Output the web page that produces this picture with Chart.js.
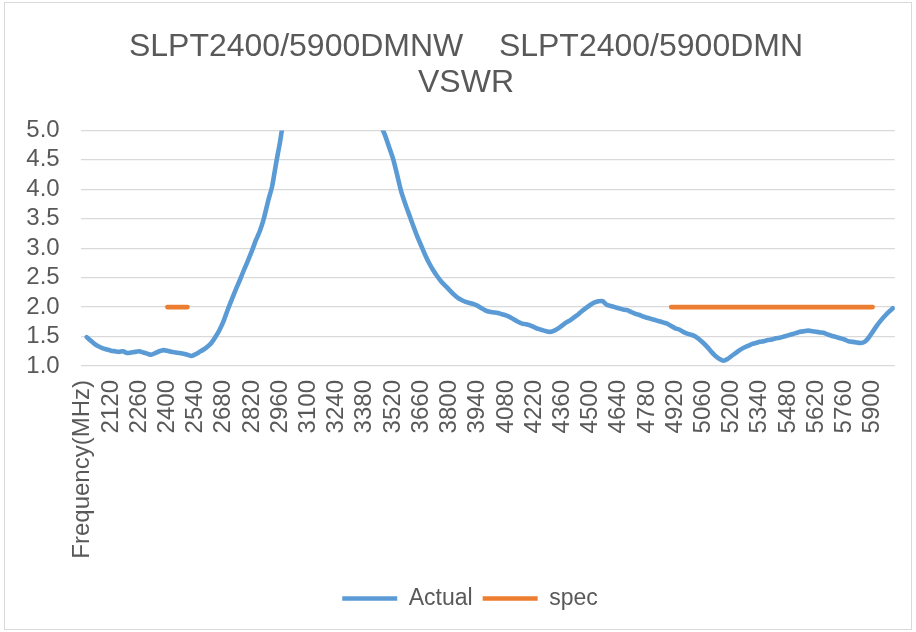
<!DOCTYPE html>
<html>
<head>
<meta charset="utf-8">
<script src="https://cdn.jsdelivr.net/npm/chart.js@4/dist/chart.umd.min.js"></script>
<style>
  html, body { margin: 0; padding: 0; background: #ffffff; }
  #wrap { position: relative; width: 916px; height: 632px; }
</style>
</head>
<body>
<div id="wrap"><canvas id="c" width="916" height="632"></canvas></div>
<script>
// ---- data ----
const headerLabel = 'Frequency(MHz)';
const frequencies = [
  2000,2020,2040,2060,2080,2100,2120,2140,2160,2180,
  2200,2220,2240,2260,2280,2300,2320,2340,2360,2380,
  2400,2420,2440,2460,2480,2500,2520,2540,2560,2580,
  2600,2620,2640,2660,2680,2700,2720,2740,2760,2780,
  2800,2820,2840,2860,2880,2900,2920,2940,2960,2980,
  3000,3020,3040,3060,3080,3100,3120,3140,3160,3180,
  3200,3220,3240,3260,3280,3300,3320,3340,3360,3380,
  3400,3420,3440,3460,3480,3500,3520,3540,3560,3580,
  3600,3620,3640,3660,3680,3700,3720,3740,3760,3780,
  3800,3820,3840,3860,3880,3900,3920,3940,3960,3980,
  4000,4020,4040,4060,4080,4100,4120,4140,4160,4180,
  4200,4220,4240,4260,4280,4300,4320,4340,4360,4380,
  4400,4420,4440,4460,4480,4500,4520,4540,4560,4580,
  4600,4620,4640,4660,4680,4700,4720,4740,4760,4780,
  4800,4820,4840,4860,4880,4900,4920,4940,4960,4980,
  5000,5020,5040,5060,5080,5100,5120,5140,5160,5180,
  5200,5220,5240,5260,5280,5300,5320,5340,5360,5380,
  5400,5420,5440,5460,5480,5500,5520,5540,5560,5580,
  5600,5620,5640,5660,5680,5700,5720,5740,5760,5780,
  5800,5820,5840,5860,5880,5900,5920,5940,5960,5980,
  6000
];
const actualVSWR = [
  1.49,1.43,1.37,1.33,1.30,1.28,1.26,1.25,1.24,1.25,
  1.22,1.23,1.24,1.25,1.23,1.21,1.19,1.22,1.25,1.27,
  1.26,1.24,1.23,1.22,1.21,1.19,1.17,1.20,1.24,1.28,
  1.33,1.40,1.50,1.62,1.77,1.96,2.13,2.30,2.46,2.63,
  2.79,2.96,3.14,3.30,3.52,3.80,4.05,4.45,4.82,5.30,
  5.90,6.60,7.40,8.30,9.20,10.1,10.9,11.5,11.9,12.1,
  12.0,11.7,11.2,10.5,9.8,9.0,8.3,7.6,7.0,6.4,
  5.9,5.5,5.25,5.08,4.92,4.72,4.52,4.25,3.97,3.76,
  3.57,3.38,3.20,3.04,2.88,2.74,2.62,2.52,2.43,2.36,
  2.29,2.22,2.16,2.12,2.09,2.07,2.05,2.02,1.98,1.94,
  1.92,1.91,1.90,1.88,1.86,1.83,1.79,1.75,1.72,1.71,
  1.69,1.66,1.63,1.61,1.59,1.58,1.60,1.64,1.69,1.74,
  1.78,1.83,1.88,1.94,1.99,2.04,2.08,2.10,2.10,2.04,
  2.02,2.00,1.98,1.96,1.95,1.92,1.89,1.87,1.84,1.82,
  1.80,1.78,1.76,1.74,1.72,1.68,1.64,1.62,1.58,1.55,
  1.53,1.50,1.45,1.39,1.32,1.24,1.17,1.12,1.09,1.12,
  1.17,1.22,1.27,1.31,1.34,1.37,1.39,1.41,1.42,1.44,
  1.45,1.47,1.48,1.50,1.52,1.54,1.56,1.58,1.59,1.60,
  1.59,1.58,1.57,1.56,1.53,1.51,1.49,1.47,1.45,1.42,
  1.41,1.40,1.39,1.41,1.48,1.58,1.68,1.77,1.85,1.92,
  1.98
];
const specBands = [ [2400, 2500], [4900, 5900] ];
const specLevel = 2.0;
const yTicks = [1.0, 1.5, 2.0, 2.5, 3.0, 3.5, 4.0, 4.5, 5.0];
const labelEvery = 7;
const titleLines = ['SLPT2400/5900DMNW    SLPT2400/5900DMN', 'VSWR'];

// ---- build the table the library needs ----
const categories = [headerLabel].concat(frequencies.map(String));
const actualData = [null].concat(actualVSWR);
const specData = [null].concat(frequencies.map(f =>
  specBands.some(b => f >= b[0] && f <= b[1]) ? specLevel : null));

const TEXT = '#595959';
const FONT = "'Liberation Sans', Arial, sans-serif";

const frame = {
  id: 'frame',
  beforeDraw(chart) {
    const ctx = chart.ctx;
    ctx.save();
    ctx.fillStyle = '#ffffff';
    ctx.fillRect(0, 0, chart.width, chart.height);
    ctx.strokeStyle = '#d9d9d9';
    ctx.lineWidth = 1;
    ctx.strokeRect(4.5, 2.5, 907, 627);
    ctx.restore();
  }
};

// Excel centres the title and legend a little right of the canvas centre
const shiftBlocks = {
  id: 'shiftBlocks',
  afterLayout(chart) {
    if (chart.titleBlock) { chart.titleBlock.left += 18; chart.titleBlock.right += 18; }
    if (chart.legend) { chart.legend.left += 22; chart.legend.right += 22; }
  }
};

new Chart(document.getElementById('c'), {
  type: 'line',
  data: {
    labels: categories,
    datasets: [
      {
        label: 'Actual',
        data: actualData,
        borderColor: '#5B9BD5',
        backgroundColor: '#5B9BD5',
        borderWidth: 4.6,
        borderCapStyle: 'round',
        borderJoinStyle: 'round',
        pointRadius: 0,
        pointHoverRadius: 0,
        tension: 0.2,
        clip: 0,
        spanGaps: false
      },
      {
        label: 'spec',
        data: specData,
        borderColor: '#ED7D31',
        backgroundColor: '#ED7D31',
        borderWidth: 4.6,
        borderCapStyle: 'round',
        pointRadius: 0,
        pointHoverRadius: 0,
        tension: 0,
        clip: 0,
        spanGaps: false
      }
    ]
  },
  options: {
    responsive: false,
    animation: false,
    events: [],
    layout: { padding: { left: 0, right: 20, top: 0, bottom: 12 } },
    plugins: {
      tooltip: { enabled: false },
      title: {
        display: true,
        text: titleLines,
        color: TEXT,
        font: { family: FONT, size: 32, weight: 'normal', lineHeight: 1.1 },
        padding: { top: 30, bottom: 30 }
      },
      legend: {
        display: true,
        position: 'bottom',
        labels: {
          color: TEXT,
          font: { family: FONT, size: 23 },
          usePointStyle: true,
          pointStyle: 'line',
          pointStyleWidth: 55,
          padding: 10
        }
      }
    },
    scales: {
      x: {
        type: 'category',
        offset: true,
        grid: { display: false, drawTicks: false },
        border: { display: false },
        ticks: {
          autoSkip: false,
          minRotation: 90,
          maxRotation: 90,
          padding: 14,
          color: TEXT,
          font: { family: FONT, size: 24 },
          callback: function (value, index) {
            return index % labelEvery === 0 ? this.getLabelForValue(value) : null;
          }
        },
        afterFit(scale) { scale.height = 211; }
      },
      y: {
        min: 1,
        max: 5,
        afterBuildTicks(scale) { scale.ticks = yTicks.map(v => ({ value: v })); },
        grid: { color: '#d9d9d9', lineWidth: 1.3, drawTicks: false },
        border: { display: false },
        ticks: {
          autoSkip: false,
          padding: 21,
          color: TEXT,
          font: { family: FONT, size: 24 },
          callback: v => Number(v).toFixed(1)
        },
        afterFit(scale) { scale.width = 80.7; }
      }
    }
  },
  plugins: [frame, shiftBlocks]
});
</script>
</body>
</html>
